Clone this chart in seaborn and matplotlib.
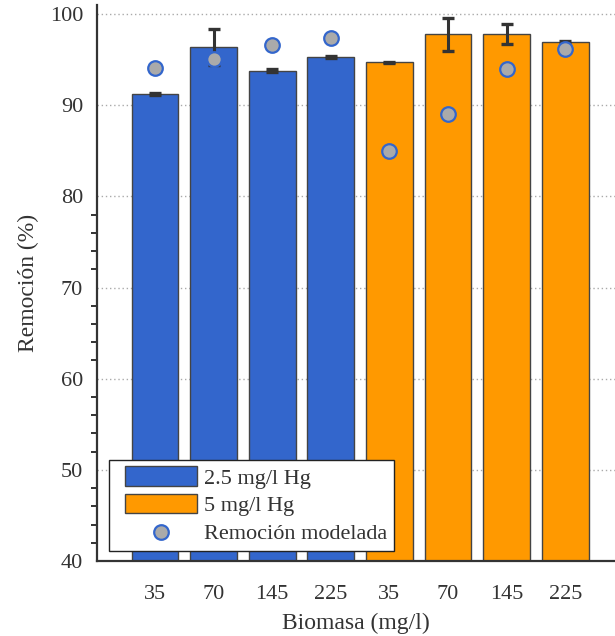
import matplotlib
matplotlib.use("Agg")
import matplotlib.pyplot as plt
from matplotlib.ticker import FixedLocator
from matplotlib.lines import Line2D
from matplotlib.patches import Patch, Rectangle
from matplotlib.legend_handler import HandlerPatch
import numpy as np
import pandas as pd
import seaborn as sns

# Data
biomasa = ["35", "70", "145", "225", "35", "70", "145", "225"]
grupo = ["2.5 mg/l Hg"] * 4 + ["5 mg/l Hg"] * 4
remocion = [91.2, 96.4, 93.8, 95.3, 94.7, 97.8, 97.8, 96.9]
error = [0.1, 2.0, 0.2, 0.1, 0.1, 1.8, 1.1, 0.2]
modelada = [94.1, 95.1, 96.6, 97.4, 85.0, 89.0, 94.0, 96.2]

colores = {"2.5 mg/l Hg": "#3366CC", "5 mg/l Hg": "#FF9900"}
texto = "#333333"

sns.set_theme(style="white")
plt.rcParams["font.family"] = ["Liberation Serif", "DejaVu Serif"]

df = pd.DataFrame({
    "clave": [f"{g}|{b}" for g, b in zip(grupo, biomasa)],
    "biomasa": biomasa,
    "grupo": grupo,
    "remocion": remocion,
})

fig = plt.figure(figsize=(6.15, 6.36), dpi=100)
ax = fig.add_axes([97 / 615, 1 - 561 / 636, 518 / 615, 556 / 636])

sns.barplot(data=df, x="clave", y="remocion", hue="grupo", palette=colores,
            saturation=1, dodge=False, width=0.8, errorbar=None,
            edgecolor="#444444", linewidth=1.0, legend=False, ax=ax, zorder=2)

pos = np.arange(len(remocion))
ax.errorbar(pos, remocion, yerr=error, fmt="none", ecolor="#333333",
            elinewidth=2.2, capsize=4, capthick=2.4, zorder=4)

sns.scatterplot(x=pos, y=modelada, color="#AAAAAA", edgecolor="#3366CC",
                linewidth=1.6, s=110, ax=ax, zorder=5, legend=False)

ax.set_xlim(-0.99, 7.85)
ax.set_ylim(40, 101)
ax.set_xticks(pos)
ax.set_xticklabels(biomasa)
ax.set_yticks([40, 50, 60, 70, 80, 90, 100])
ax.yaxis.set_minor_locator(FixedLocator([v for v in range(42, 80, 2) if v % 10]))

ax.grid(axis="y", which="major", linestyle=(0, (1, 2)), color="#AAAAAA",
        linewidth=1.0, zorder=0)
ax.set_axisbelow(True)

for s in ["top", "right"]:
    ax.spines[s].set_visible(False)
for s in ["left", "bottom"]:
    ax.spines[s].set_color("#333333")
    ax.spines[s].set_linewidth(1.6)

ax.tick_params(axis="both", which="major", direction="out", length=7,
               width=1.6, color="#333333", labelsize=16, labelcolor=texto)
ax.tick_params(axis="x", which="major", pad=10.5)
ax.tick_params(axis="y", which="major", pad=3)
ax.tick_params(axis="y", which="minor", direction="out", length=4,
               width=1.4, color="#333333", left=True)

ax.set_xlabel("Biomasa (mg/l)", fontsize=17, color=texto, labelpad=6)
ax.set_ylabel("Remoción (%)", fontsize=17, color=texto, labelpad=8)

# Legend keys sit a little in from the frame's left edge
DESPLAZ = 6.5


def rect_desplazado(legend, orig_handle, xdescent, ydescent, width, height, fontsize):
    return Rectangle((-xdescent + DESPLAZ, -ydescent), width - DESPLAZ, height)


class MarcadorDesplazado:
    def legend_artist(self, legend, orig_handle, fontsize, handlebox):
        x0, y0 = handlebox.xdescent, handlebox.ydescent
        w, h = handlebox.width, handlebox.height
        m = Line2D([-x0 + DESPLAZ + (w - DESPLAZ) / 2], [-y0 + h / 2],
                   linestyle="none", marker="o", markersize=10.5,
                   markerfacecolor="#AAAAAA", markeredgecolor="#3366CC",
                   markeredgewidth=1.6)
        handlebox.add_artist(m)
        return m


p1 = Patch(facecolor=colores["2.5 mg/l Hg"], edgecolor="#444444", linewidth=1.0)
p2 = Patch(facecolor=colores["5 mg/l Hg"], edgecolor="#444444", linewidth=1.0)
mk = Line2D([], [], linestyle="none", marker="o")
leg = ax.legend([p1, p2, mk], ["2.5 mg/l Hg", "5 mg/l Hg", "Remoción modelada"],
                handler_map={Patch: HandlerPatch(patch_func=rect_desplazado),
                             Line2D: MarcadorDesplazado()},
                loc="upper left", bbox_to_anchor=(0.023, 0.182),
                borderaxespad=0, fontsize=16, handlelength=3.65,
                handleheight=0.95, labelspacing=0.25, handletextpad=0.35,
                borderpad=0.3, fancybox=False, framealpha=1,
                edgecolor="#222222")
leg.get_frame().set_linewidth(1.0)
for t in leg.get_texts():
    t.set_color(texto)

fig.savefig("out.png", dpi=100)
